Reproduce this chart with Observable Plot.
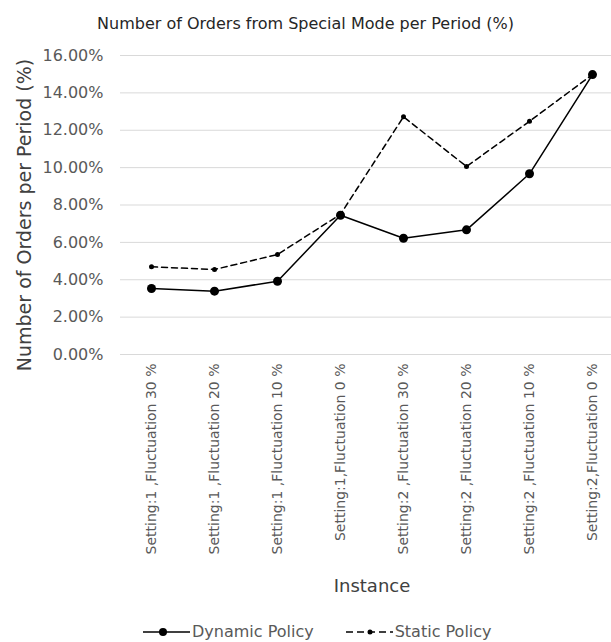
<!DOCTYPE html>
<html>
<head>
<meta charset="utf-8">
<script src="https://cdn.jsdelivr.net/npm/d3@7"></script>
<script src="https://cdn.jsdelivr.net/npm/@observablehq/plot@0.6"></script>
<style>
  body { margin: 0; background: #fff; font-family: "DejaVu Sans", Verdana, sans-serif; }
  #chart { position: relative; width: 611px; height: 642px; overflow: hidden; }
  #title { position: absolute; left: 0; width: 611px; top: 14px; text-align: center; font-size: 16px; color: #262626; }
  #plot { position: absolute; left: 0; top: 40px; }
  #plot svg [aria-label="y-axis tick label"] text { font-size: 16px; }
  #plot svg [aria-label="y-axis label"] text { fill: #404040; font-size: 19px; }
  #plot svg [aria-label="x-axis label"] text { fill: #404040; font-size: 18px; }
  #legend { position: absolute; left: 143px; top: 622px; display: flex; gap: 32px; font-size: 16px; color: #595959; line-height: 20px; }
  #legend .item { display: flex; align-items: center; gap: 1px; }
</style>
</head>
<body>
<div id="chart">
  <div id="title">Number of Orders from Special Mode per Period (%)</div>
  <div id="plot"></div>
  <div id="legend"></div>
</div>
<script>
// Instances on the category axis
const instances = [
  "Setting:1 ,Fluctuation 30 %",
  "Setting:1 ,Fluctuation 20 %",
  "Setting:1 ,Fluctuation 10 %",
  "Setting:1,Fluctuation 0 %",
  "Setting:2 ,Fluctuation 30 %",
  "Setting:2 ,Fluctuation 20 %",
  "Setting:2 ,Fluctuation 10 %",
  "Setting:2,Fluctuation 0 %"
];
// Share of orders from special mode per period (%)
const dynamicPolicy = [3.53, 3.39, 3.92, 7.45, 6.22, 6.67, 9.67, 14.98];
const staticPolicy = [4.69, 4.55, 5.35, 7.50, 12.72, 10.06, 12.48, 14.98];
const yTicks = [0, 2, 4, 6, 8, 10, 12, 14, 16];

const seriesNames = ["Dynamic Policy", "Static Policy"];
const dynRows = instances.map((inst, i) => ({instance: inst, value: dynamicPolicy[i]}));
const statRows = instances.map((inst, i) => ({instance: inst, value: staticPolicy[i]}));

const chart = Plot.plot({
  width: 611,
  height: 560,
  marginLeft: 120,
  marginRight: 0,
  marginTop: 15,
  marginBottom: 246,
  style: {fontFamily: "'DejaVu Sans', Verdana, sans-serif", fontSize: "14px", color: "#595959", background: "#fff"},
  x: {type: "point", domain: instances, range: [151, 592], padding: 0},
  y: {domain: [0, 16]},
  marks: [
    Plot.gridY(yTicks, {stroke: "#d9d9d9", strokeOpacity: 1, strokeWidth: 1}),
    Plot.axisY(yTicks, {
      tickSize: 0, tickPadding: 17,
      tickFormat: d => d.toFixed(2) + "%",
      label: "Number of Orders per Period (%)",
      labelAnchor: "center", labelArrow: "none", labelOffset: 103
    }),
    Plot.axisX({
      tickSize: 0, tickRotate: -90, tickPadding: 9,
      label: "Instance", labelAnchor: "center", labelArrow: "none", labelOffset: 233
    }),
    Plot.line(statRows, {x: "instance", y: "value", stroke: "#000", strokeWidth: 1.5, strokeDasharray: "6,4"}),
    Plot.dot(statRows, {x: "instance", y: "value", r: 2.5, fill: "#000"}),
    Plot.line(dynRows, {x: "instance", y: "value", stroke: "#000", strokeWidth: 1.5}),
    Plot.dot(dynRows, {x: "instance", y: "value", r: 4.5, fill: "#000"})
  ]
});
document.getElementById("plot").appendChild(chart);

// Nudge the axis titles: the category area runs a half step past the right edge
function nudge(sel, dx, dy) {
  d3.select(chart).selectAll(sel).each(function () {
    const t = this.getAttribute("transform") || "";
    this.setAttribute("transform", `translate(${dx},${dy}) ${t}`);
  });
}
nudge('[aria-label="y-axis label"]', 0, 10);
nudge('[aria-label="x-axis label"]', 6, 4);

// Legend: line samples with markers
const legend = d3.select("#legend");
seriesNames.forEach((name, i) => {
  const item = legend.append("div").attr("class", "item");
  const svg = item.append("svg").attr("width", 48).attr("height", 12);
  svg.append("line").attr("x1", 0).attr("x2", 47).attr("y1", 6).attr("y2", 6)
    .attr("stroke", "#000").attr("stroke-width", 1.5)
    .attr("stroke-dasharray", i === 0 ? null : "7,4");
  svg.append("circle").attr("cx", i === 0 ? 20 : 24).attr("cy", 6).attr("r", i === 0 ? 4 : 2.5).attr("fill", "#000");
  item.append("span").text(name);
});
</script>
</body>
</html>
